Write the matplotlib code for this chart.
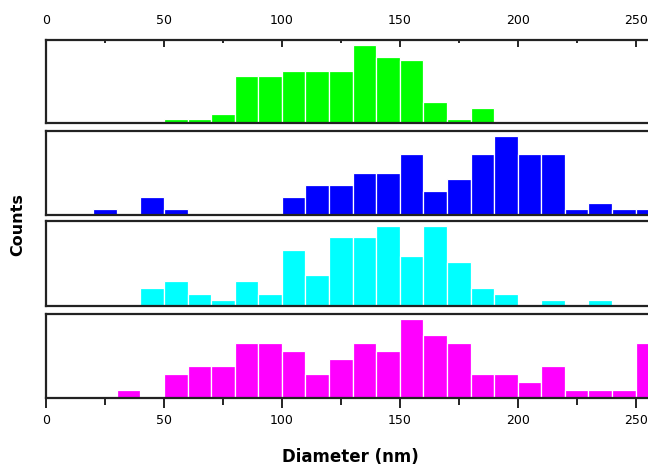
import matplotlib
matplotlib.use("Agg")
from matplotlib import pyplot as plt
from matplotlib.ticker import MultipleLocator

plt.rcParams['font.family'] = ['DejaVu Sans']

# bin left edges (nm) and heights for each sample
green_bins = [50, 60, 70, 80, 90, 100, 110, 120, 130, 140, 150, 160, 170, 180]
green_vals = [1, 1, 2.4, 11.8, 11.8, 13.2, 13.2, 13.2, 19.7, 16.8, 16, 5.3, 1, 3.9]

blue_bins = [20, 40, 50, 100, 110, 120, 130, 140, 150, 160, 170, 180, 190,
             200, 210, 220, 230, 240, 250]
blue_vals = [1, 3, 1, 3, 5, 5, 7, 7, 10, 4, 6, 10, 13, 10, 10, 1, 2, 1, 1]

cyan_bins = [40, 50, 60, 70, 80, 90, 100, 110, 120, 130, 140, 150, 160, 170,
             180, 190, 210, 230]
cyan_vals = [3, 4.3, 2, 1, 4.3, 2, 9.4, 5.2, 11.6, 11.6, 13.5, 8.4, 13.5, 7.4,
             3, 2, 1, 1]

magenta_bins = [30, 50, 60, 70, 80, 90, 100, 110, 120, 130, 140, 150, 160,
                170, 180, 190, 200, 210, 220, 230, 240, 250]
magenta_vals = [1, 3, 4, 4, 7, 7, 6, 3, 5, 7, 6, 10, 8, 7, 3, 3, 2, 4, 1, 1, 1, 7]

panels = [
    (green_bins, green_vals, '#00ff00'),
    (blue_bins, blue_vals, '#0000ff'),
    (cyan_bins, cyan_vals, '#00ffff'),
    (magenta_bins, magenta_vals, '#ff00ff'),
]

W, H = 648, 468
fig = plt.figure(figsize=(W / 100, H / 100), dpi=100)

# panel tops / bottoms in pixels
boxes = [(40, 123), (131, 215), (221, 306), (314, 398)]
left = 46

axes = []
for (bins, vals, color), (top, bot) in zip(panels, boxes):
    ax = fig.add_axes([left / W, 1 - bot / H, (W - left) / W + 0.01, (bot - top) / H])
    ax.bar(bins, vals, width=10, align='edge', color=color,
           edgecolor='white', linewidth=0.9)
    ax.set_xlim(0, 258)
    ax.set_ylim(0, max(vals) * 1.065)
    ax.set_yticks([])
    for s in ax.spines.values():
        s.set_linewidth(1.6)
        s.set_color('#222222')
    ax.xaxis.set_major_locator(MultipleLocator(50))
    ax.xaxis.set_minor_locator(MultipleLocator(25))
    ax.tick_params(axis='x', which='both', bottom=False, top=False,
                   labelbottom=False, labeltop=False)
    axes.append(ax)

# top panel: ticks inside on top with labels above
top_ax = axes[0]
top_ax.tick_params(axis='x', which='major', top=True, labeltop=True,
                   direction='in', length=5, width=1.2, pad=9.5, labelsize=9)
top_ax.tick_params(axis='x', which='minor', top=True, direction='in',
                   length=2.5, width=1.2)

# bottom panel: ticks outside on bottom
bot_ax = axes[-1]
bot_ax.tick_params(axis='x', which='major', bottom=True, labelbottom=True,
                   direction='out', length=7, width=1.2, pad=4.5, labelsize=9)
bot_ax.tick_params(axis='x', which='minor', bottom=True, direction='out',
                   length=5, width=1.2)
bot_ax.set_xlabel('Diameter (nm)', fontsize=12, fontweight='bold', labelpad=15)

fig.text(17.5 / W, 1 - 225 / H, 'Counts', rotation=90, fontsize=11.5,
         fontweight='bold', ha='center', va='center')

fig.savefig('out.png', dpi=100)
